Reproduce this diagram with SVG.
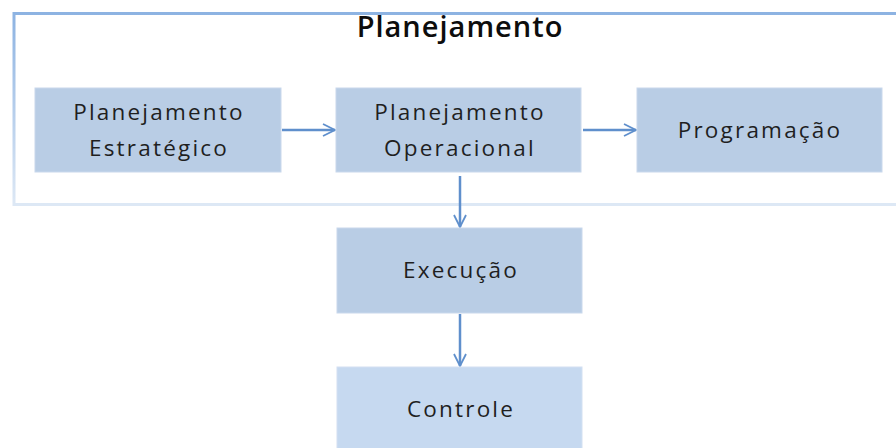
<svg xmlns="http://www.w3.org/2000/svg" width="896" height="448" viewBox="0 0 896 448">
<style>
.box{fill:#b9cde5;stroke:#c9d8ec;stroke-width:1}
.box2{fill:#c6d9f0;stroke:#d3e0f2;stroke-width:1}
.t{font-family:"Open Sans","Liberation Sans",sans-serif;font-size:22.5px;fill:#1f1f1f;text-anchor:middle;letter-spacing:2.2px}
.title{font-family:"Open Sans","Liberation Sans",sans-serif;font-size:29px;font-weight:600;fill:#0d0d0d;text-anchor:middle;letter-spacing:1px}
.c{stroke:#5f8fcc;stroke-width:2.5;fill:none}
</style>
<defs>
<linearGradient id="fg" x1="0" y1="0" x2="0" y2="1">
<stop offset="0" stop-color="#8db3e2"/>
<stop offset="1" stop-color="#dde8f5"/>
</linearGradient>
<marker id="ah" viewBox="0 0 14 14" refX="13" refY="7" markerWidth="14" markerHeight="14" markerUnits="userSpaceOnUse" orient="auto">
<path d="M1,1 L13,7 L1,13" fill="none" stroke="#5f8fcc" stroke-width="1.8"/>
</marker>
</defs>
<rect width="896" height="448" fill="#ffffff"/>
<g id="frame">
<rect x="14" y="13.5" width="900" height="191" fill="none" stroke="url(#fg)" stroke-width="3"/>
<text class="title" x="460" y="37">Planejamento</text>
</g>
<g id="connectors">
<line class="c" x1="282" y1="130" x2="335" y2="130" marker-end="url(#ah)"/>
<line class="c" x1="583" y1="130" x2="636" y2="130" marker-end="url(#ah)"/>
<line class="c" x1="460" y1="176" x2="460" y2="227" marker-end="url(#ah)"/>
<line class="c" x1="460" y1="314" x2="460" y2="366" marker-end="url(#ah)"/>
</g>
<g id="n1">
<rect class="box" x="35" y="88" width="246" height="84"/>
<text class="t" x="159" y="120">Planejamento</text>
<text class="t" x="159" y="156">Estratégico</text>
</g>
<g id="n2">
<rect class="box" x="336" y="88" width="245" height="84"/>
<text class="t" x="460" y="120">Planejamento</text>
<text class="t" x="460" y="156">Operacional</text>
</g>
<g id="n3">
<rect class="box" x="637" y="88" width="245" height="84"/>
<text class="t" x="760" y="138">Programação</text>
</g>
<g id="n4">
<rect class="box" x="337" y="228" width="245" height="85"/>
<text class="t" x="461" y="278">Execução</text>
</g>
<g id="n5">
<rect class="box2" x="337" y="367" width="245" height="90"/>
<text class="t" x="461" y="417">Controle</text>
</g>
</svg>
